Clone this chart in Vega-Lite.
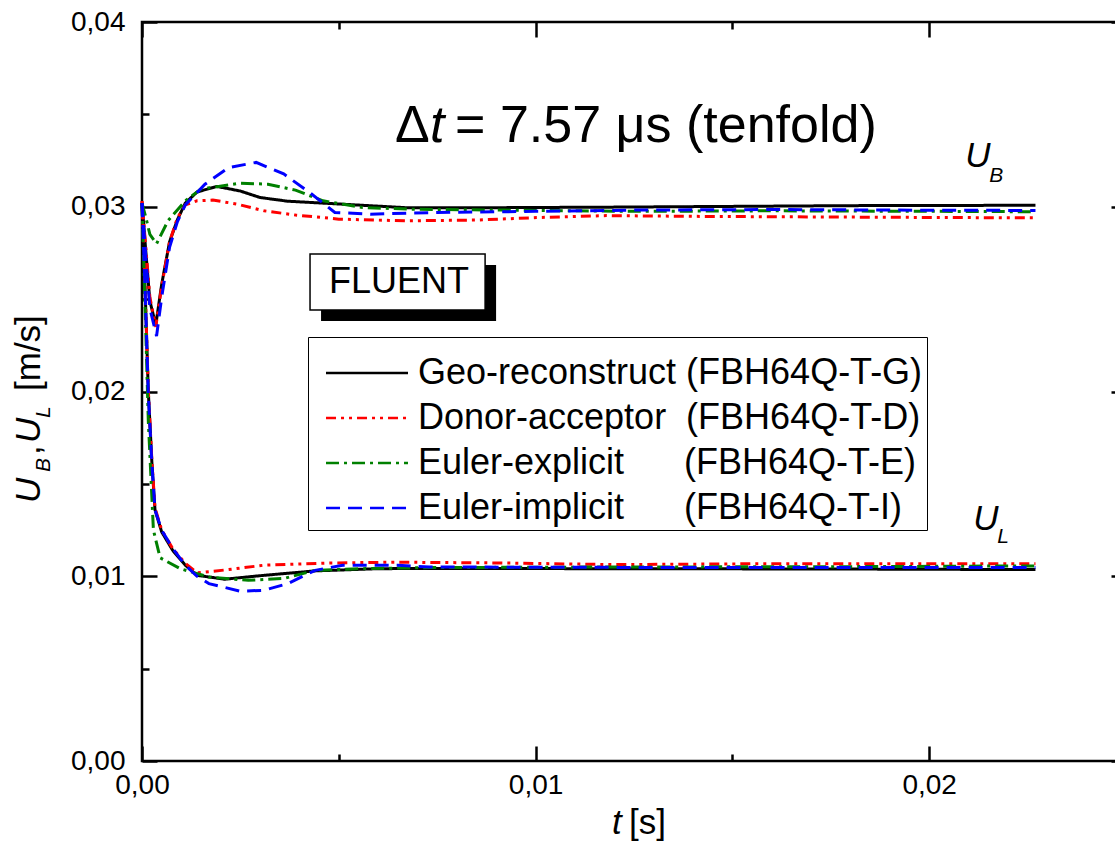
{
  "$schema": "https://vega.github.io/schema/vega-lite/v6.json",
  "autosize": "none",
  "width": 984,
  "height": 739,
  "padding": {"left": 142, "top": 22, "right": -11, "bottom": 80},
  "background": "white",
  "config": {
    "font": "Liberation Sans",
    "view": {"stroke": "black", "strokeWidth": 2.5},
    "axis": {"domain": false, "grid": false, "title": null, "tickColor": "black", "tickWidth": 2.5, "labelColor": "black", "labelFont": "Liberation Sans", "labelFontSize": 28, "labelFlush": false, "labelOverlap": false}
  },
  "resolve": {"axis": {"x": "independent", "y": "independent"}},
  "layer": [
    {
      "data": {"values": [
        {"t":0,"u":0.0302,"m":"G","c":"B"},{"t":0.0001,"u":0.0275,"m":"G","c":"B"},{"t":0.0002,"u":0.0249,"m":"G","c":"B"},{"t":0.00035,"u":0.0236,"m":"G","c":"B"},{"t":0.0005,"u":0.0258,"m":"G","c":"B"},{"t":0.0007,"u":0.0281,"m":"G","c":"B"},{"t":0.0009,"u":0.0293,"m":"G","c":"B"},{"t":0.0011,"u":0.0302,"m":"G","c":"B"},{"t":0.0014,"u":0.0308,"m":"G","c":"B"},{"t":0.0019,"u":0.0311,"m":"G","c":"B"},{"t":0.0025,"u":0.03085,"m":"G","c":"B"},{"t":0.003,"u":0.0305,"m":"G","c":"B"},{"t":0.0037,"u":0.0303,"m":"G","c":"B"},{"t":0.005,"u":0.03015,"m":"G","c":"B"},{"t":0.0067,"u":0.02995,"m":"G","c":"B"},{"t":0.009,"u":0.02995,"m":"G","c":"B"},{"t":0.012,"u":0.02998,"m":"G","c":"B"},{"t":0.015,"u":0.03002,"m":"G","c":"B"},{"t":0.018,"u":0.03006,"m":"G","c":"B"},{"t":0.0227,"u":0.03008,"m":"G","c":"B"},
        {"t":0,"u":0.0302,"m":"G","c":"L"},{"t":0.00008,"u":0.0255,"m":"G","c":"L"},{"t":0.00016,"u":0.02,"m":"G","c":"L"},{"t":0.00025,"u":0.0162,"m":"G","c":"L"},{"t":0.00033,"u":0.0136,"m":"G","c":"L"},{"t":0.0005,"u":0.0124,"m":"G","c":"L"},{"t":0.00078,"u":0.0114,"m":"G","c":"L"},{"t":0.0011,"u":0.0106,"m":"G","c":"L"},{"t":0.0014,"u":0.01005,"m":"G","c":"L"},{"t":0.0021,"u":0.00984,"m":"G","c":"L"},{"t":0.0031,"u":0.01005,"m":"G","c":"L"},{"t":0.0044,"u":0.01029,"m":"G","c":"L"},{"t":0.006,"u":0.01041,"m":"G","c":"L"},{"t":0.0073,"u":0.01042,"m":"G","c":"L"},{"t":0.012,"u":0.01041,"m":"G","c":"L"},{"t":0.018,"u":0.01039,"m":"G","c":"L"},{"t":0.0227,"u":0.01036,"m":"G","c":"L"},
        {"t":0,"u":0.0303,"m":"D","c":"B"},{"t":0.0001,"u":0.0277,"m":"D","c":"B"},{"t":0.0002,"u":0.0251,"m":"D","c":"B"},{"t":0.00035,"u":0.0235,"m":"D","c":"B"},{"t":0.0005,"u":0.0257,"m":"D","c":"B"},{"t":0.0007,"u":0.0281,"m":"D","c":"B"},{"t":0.0009,"u":0.0294,"m":"D","c":"B"},{"t":0.0011,"u":0.0301,"m":"D","c":"B"},{"t":0.0014,"u":0.03032,"m":"D","c":"B"},{"t":0.0018,"u":0.03036,"m":"D","c":"B"},{"t":0.0024,"u":0.03015,"m":"D","c":"B"},{"t":0.0031,"u":0.02978,"m":"D","c":"B"},{"t":0.0039,"u":0.02955,"m":"D","c":"B"},{"t":0.005,"u":0.02933,"m":"D","c":"B"},{"t":0.0067,"u":0.02924,"m":"D","c":"B"},{"t":0.0085,"u":0.02928,"m":"D","c":"B"},{"t":0.0101,"u":0.02942,"m":"D","c":"B"},{"t":0.0118,"u":0.02952,"m":"D","c":"B"},{"t":0.014,"u":0.02948,"m":"D","c":"B"},{"t":0.017,"u":0.02945,"m":"D","c":"B"},{"t":0.02,"u":0.02942,"m":"D","c":"B"},{"t":0.0227,"u":0.0294,"m":"D","c":"B"},
        {"t":0,"u":0.0303,"m":"D","c":"L"},{"t":0.00008,"u":0.0256,"m":"D","c":"L"},{"t":0.00016,"u":0.0201,"m":"D","c":"L"},{"t":0.00025,"u":0.0163,"m":"D","c":"L"},{"t":0.00033,"u":0.0137,"m":"D","c":"L"},{"t":0.0005,"u":0.0125,"m":"D","c":"L"},{"t":0.00078,"u":0.0115,"m":"D","c":"L"},{"t":0.0011,"u":0.0107,"m":"D","c":"L"},{"t":0.0014,"u":0.01018,"m":"D","c":"L"},{"t":0.0022,"u":0.01036,"m":"D","c":"L"},{"t":0.0031,"u":0.0106,"m":"D","c":"L"},{"t":0.0048,"u":0.01072,"m":"D","c":"L"},{"t":0.0065,"u":0.01076,"m":"D","c":"L"},{"t":0.0091,"u":0.01072,"m":"D","c":"L"},{"t":0.012,"u":0.01063,"m":"D","c":"L"},{"t":0.016,"u":0.01068,"m":"D","c":"L"},{"t":0.02,"u":0.01068,"m":"D","c":"L"},{"t":0.0227,"u":0.01068,"m":"D","c":"L"},
        {"t":0,"u":0.0302,"m":"E","c":"B"},{"t":0.0001,"u":0.0294,"m":"E","c":"B"},{"t":0.0002,"u":0.0285,"m":"E","c":"B"},{"t":0.00037,"u":0.028,"m":"E","c":"B"},{"t":0.00066,"u":0.02924,"m":"E","c":"B"},{"t":0.0011,"u":0.03032,"m":"E","c":"B"},{"t":0.0015,"u":0.03097,"m":"E","c":"B"},{"t":0.0018,"u":0.03105,"m":"E","c":"B"},{"t":0.0025,"u":0.03128,"m":"E","c":"B"},{"t":0.0032,"u":0.03122,"m":"E","c":"B"},{"t":0.0039,"u":0.0309,"m":"E","c":"B"},{"t":0.0046,"u":0.03032,"m":"E","c":"B"},{"t":0.0056,"u":0.02996,"m":"E","c":"B"},{"t":0.0068,"u":0.02987,"m":"E","c":"B"},{"t":0.0092,"u":0.02982,"m":"E","c":"B"},{"t":0.0126,"u":0.02975,"m":"E","c":"B"},{"t":0.016,"u":0.02978,"m":"E","c":"B"},{"t":0.019,"u":0.02976,"m":"E","c":"B"},{"t":0.0227,"u":0.02973,"m":"E","c":"B"},
        {"t":0,"u":0.0302,"m":"E","c":"L"},{"t":0.00008,"u":0.0245,"m":"E","c":"L"},{"t":0.00016,"u":0.0184,"m":"E","c":"L"},{"t":0.00029,"u":0.0125,"m":"E","c":"L"},{"t":0.00046,"u":0.011,"m":"E","c":"L"},{"t":0.00097,"u":0.01041,"m":"E","c":"L"},{"t":0.0017,"u":0.00996,"m":"E","c":"L"},{"t":0.0027,"u":0.00978,"m":"E","c":"L"},{"t":0.0036,"u":0.00988,"m":"E","c":"L"},{"t":0.0044,"u":0.01032,"m":"E","c":"L"},{"t":0.0056,"u":0.01041,"m":"E","c":"L"},{"t":0.0073,"u":0.01047,"m":"E","c":"L"},{"t":0.012,"u":0.0105,"m":"E","c":"L"},{"t":0.018,"u":0.01052,"m":"E","c":"L"},{"t":0.0227,"u":0.01056,"m":"E","c":"L"},
        {"t":0,"u":0.0302,"m":"I","c":"B"},{"t":0.0001,"u":0.0272,"m":"I","c":"B"},{"t":0.0002,"u":0.0245,"m":"I","c":"B"},{"t":0.00037,"u":0.023,"m":"I","c":"B"},{"t":0.0005,"u":0.0251,"m":"I","c":"B"},{"t":0.0007,"u":0.0278,"m":"I","c":"B"},{"t":0.0009,"u":0.0292,"m":"I","c":"B"},{"t":0.0011,"u":0.0301,"m":"I","c":"B"},{"t":0.0016,"u":0.03122,"m":"I","c":"B"},{"t":0.0022,"u":0.03212,"m":"I","c":"B"},{"t":0.0029,"u":0.0324,"m":"I","c":"B"},{"t":0.0036,"u":0.03178,"m":"I","c":"B"},{"t":0.0043,"u":0.0307,"m":"I","c":"B"},{"t":0.0049,"u":0.02969,"m":"I","c":"B"},{"t":0.0058,"u":0.0296,"m":"I","c":"B"},{"t":0.0075,"u":0.02969,"m":"I","c":"B"},{"t":0.01,"u":0.02975,"m":"I","c":"B"},{"t":0.0126,"u":0.02982,"m":"I","c":"B"},{"t":0.016,"u":0.02985,"m":"I","c":"B"},{"t":0.019,"u":0.02982,"m":"I","c":"B"},{"t":0.0227,"u":0.0298,"m":"I","c":"B"},
        {"t":0,"u":0.0302,"m":"I","c":"L"},{"t":0.00008,"u":0.0254,"m":"I","c":"L"},{"t":0.00016,"u":0.0199,"m":"I","c":"L"},{"t":0.00025,"u":0.0161,"m":"I","c":"L"},{"t":0.00033,"u":0.0136,"m":"I","c":"L"},{"t":0.0005,"u":0.0125,"m":"I","c":"L"},{"t":0.00078,"u":0.0115,"m":"I","c":"L"},{"t":0.0011,"u":0.0106,"m":"I","c":"L"},{"t":0.0014,"u":0.01,"m":"I","c":"L"},{"t":0.0017,"u":0.0096,"m":"I","c":"L"},{"t":0.0025,"u":0.00919,"m":"I","c":"L"},{"t":0.0031,"u":0.00924,"m":"I","c":"L"},{"t":0.0037,"u":0.0096,"m":"I","c":"L"},{"t":0.0044,"u":0.01032,"m":"I","c":"L"},{"t":0.0051,"u":0.0106,"m":"I","c":"L"},{"t":0.0065,"u":0.0106,"m":"I","c":"L"},{"t":0.0073,"u":0.0105,"m":"I","c":"L"},{"t":0.012,"u":0.01048,"m":"I","c":"L"},{"t":0.018,"u":0.01048,"m":"I","c":"L"},{"t":0.0227,"u":0.01047,"m":"I","c":"L"}
      ]},
      "mark": {"type": "line", "strokeWidth": 3},
      "encoding": {
        "x": {"field": "t", "type": "quantitative", "scale": {"domain": [0, 0.025], "nice": false, "zero": false},
          "axis": {"orient": "bottom", "values": [0, 0.005, 0.01, 0.015, 0.02, 0.025],
            "tickSize": {"condition": {"test": "round(datum.value*200) % 2 == 0", "value": -15}, "value": -7},
            "labelPadding": 25,
            "labelExpr": "round(datum.value*200) % 2 == 0 ? replace(format(datum.value, '.2f'), '.', ',') : ''"}},
        "y": {"field": "u", "type": "quantitative", "scale": {"domain": [0, 0.04], "nice": false, "zero": false},
          "axis": {"orient": "left", "values": [0, 0.005, 0.01, 0.015, 0.02, 0.025, 0.03, 0.035, 0.04],
            "tickSize": {"condition": {"test": "round(datum.value*200) % 2 == 0", "value": -15}, "value": -7},
            "labelPadding": 32,
            "labelExpr": "round(datum.value*200) % 2 == 0 ? replace(format(datum.value, '.2f'), '.', ',') : ''"}},
        "color": {"field": "m", "type": "nominal",
          "scale": {"domain": ["G", "D", "E", "I"], "range": ["#000000", "#ff0000", "#008000", "#0000ff"]},
          "legend": {"orient": "none", "legendX": 166, "legendY": 315, "title": " ", "titleFontSize": 10, "titlePadding": 4,
            "symbolType": "M-4,0H4", "symbolSize": 420, "symbolStrokeWidth": 2.5, "symbolOffset": 37, "labelOffset": 33,
            "labelFontSize": 36, "labelFont": "Liberation Sans", "labelColor": "black", "labelLimit": 0,
            "strokeColor": "black", "fillColor": "white", "padding": 4, "rowPadding": 9,
            "labelExpr": "{'G': 'Geo-reconstruct\u00a0(FBH64Q-T-G)', 'D': 'Donor-acceptor\u00a0\u00a0(FBH64Q-T-D)', 'E': 'Euler-explicit\u00a0\u00a0\u00a0\u00a0\u00a0\u00a0(FBH64Q-T-E)', 'I': 'Euler-implicit\u00a0\u00a0\u00a0\u00a0\u00a0\u00a0(FBH64Q-T-I)'}[datum.label]"}},
        "strokeDash": {"field": "m", "type": "nominal",
          "scale": {"domain": ["G", "D", "E", "I"], "range": [[1, 0], [10, 5, 3, 5, 3, 5], [13, 5, 3, 5], [14, 8]]},
          "legend": {"orient": "none", "legendX": 166, "legendY": 315, "title": " ", "titleFontSize": 10, "titlePadding": 4,
            "symbolType": "M-4,0H4", "symbolSize": 420, "symbolStrokeWidth": 2.5, "symbolOffset": 37, "labelOffset": 33,
            "labelFontSize": 36, "labelFont": "Liberation Sans", "labelColor": "black", "labelLimit": 0,
            "strokeColor": "black", "fillColor": "white", "padding": 4, "rowPadding": 9,
            "labelExpr": "{'G': 'Geo-reconstruct\u00a0(FBH64Q-T-G)', 'D': 'Donor-acceptor\u00a0\u00a0(FBH64Q-T-D)', 'E': 'Euler-explicit\u00a0\u00a0\u00a0\u00a0\u00a0\u00a0(FBH64Q-T-E)', 'I': 'Euler-implicit\u00a0\u00a0\u00a0\u00a0\u00a0\u00a0(FBH64Q-T-I)'}[datum.label]"}},
        "detail": {"field": "c", "type": "nominal"}
      }
    },
    {
      "data": {"values": [{"x1": 0.004549, "x2": 0.008996, "y1": 0.026847, "y2": 0.023816}]},
      "mark": {"type": "rect", "fill": "black"},
      "encoding": {
        "x": {"field": "x1", "type": "quantitative", "scale": {"domain": [0, 0.025], "nice": false, "zero": false},
          "axis": {"orient": "top", "values": [0, 0.005, 0.01, 0.015, 0.02, 0.025], "labels": false,
            "tickSize": {"condition": {"test": "round(datum.value*200) % 2 == 0", "value": -15}, "value": -7}}},
        "x2": {"field": "x2"},
        "y": {"field": "y1", "type": "quantitative", "scale": {"domain": [0, 0.04], "nice": false, "zero": false},
          "axis": {"orient": "right", "values": [0, 0.005, 0.01, 0.015, 0.02, 0.025, 0.03, 0.035, 0.04], "labels": false,
            "tickSize": {"condition": {"test": "round(datum.value*200) % 2 == 0", "value": -15}, "value": -7}}},
        "y2": {"field": "y2"}
      }
    },
    {
      "data": {"values": [{"x1": 0.004269, "x2": 0.008717, "y1": 0.027443, "y2": 0.024411}]},
      "mark": {"type": "rect", "fill": "white", "stroke": "black", "strokeWidth": 1.5},
      "encoding": {
        "x": {"field": "x1", "type": "quantitative", "scale": {"domain": [0, 0.025]}, "axis": null},
        "x2": {"field": "x2"},
        "y": {"field": "y1", "type": "quantitative", "scale": {"domain": [0, 0.04]}, "axis": null},
        "y2": {"field": "y2"}
      }
    },
    {
      "data": {"values": [{"x": 0.006531, "y": 0.025331, "label": "FLUENT"}]},
      "mark": {"type": "text", "align": "center", "baseline": "alphabetic", "fontSize": 36, "color": "black"},
      "encoding": {
        "x": {"field": "x", "type": "quantitative", "scale": {"domain": [0, 0.025]}, "axis": null},
        "y": {"field": "y", "type": "quantitative", "scale": {"domain": [0, 0.04]}, "axis": null},
        "text": {"field": "label"}
      }
    },
    {
      "data": {"values": [{"x": 0.00643, "y": 0.033505, "label": "Δ"}, {"x": 0.007954, "y": 0.033505, "label": "= 7.57 μs (tenfold)"}]},
      "mark": {"type": "text", "align": "left", "baseline": "alphabetic", "fontSize": 52, "color": "black"},
      "encoding": {
        "x": {"field": "x", "type": "quantitative", "scale": {"domain": [0, 0.025]}, "axis": null},
        "y": {"field": "y", "type": "quantitative", "scale": {"domain": [0, 0.04]}, "axis": null},
        "text": {"field": "label"}
      }
    },
    {
      "data": {"values": [{"x": 0.007319, "y": 0.033505, "label": "t"}]},
      "mark": {"type": "text", "align": "left", "baseline": "alphabetic", "fontSize": 52, "fontStyle": "italic", "color": "black"},
      "encoding": {
        "x": {"field": "x", "type": "quantitative", "scale": {"domain": [0, 0.025]}, "axis": null},
        "y": {"field": "y", "type": "quantitative", "scale": {"domain": [0, 0.04]}, "axis": null},
        "text": {"field": "label"}
      }
    },
    {
      "data": {"values": [{"x": 0.020915, "y": 0.032152, "label": "U"}, {"x": 0.021118, "y": 0.012503, "label": "U"}, {"x": 0.011944, "y": -0.003951, "label": "t"}]},
      "mark": {"type": "text", "align": "left", "baseline": "alphabetic", "fontSize": 35, "fontStyle": "italic", "color": "black"},
      "encoding": {
        "x": {"field": "x", "type": "quantitative", "scale": {"domain": [0, 0.025]}, "axis": null},
        "y": {"field": "y", "type": "quantitative", "scale": {"domain": [0, 0.04]}, "axis": null},
        "text": {"field": "label"}
      }
    },
    {
      "data": {"values": [{"x": 0.021525, "y": 0.03134, "label": "B"}, {"x": 0.021728, "y": 0.0118, "label": "L"}]},
      "mark": {"type": "text", "align": "left", "baseline": "alphabetic", "fontSize": 21, "fontStyle": "italic", "color": "black"},
      "encoding": {
        "x": {"field": "x", "type": "quantitative", "scale": {"domain": [0, 0.025]}, "axis": null},
        "y": {"field": "y", "type": "quantitative", "scale": {"domain": [0, 0.04]}, "axis": null},
        "text": {"field": "label"}
      }
    },
    {
      "data": {"values": [{"x": 0.012376, "y": -0.003951, "label": "[s]"}]},
      "mark": {"type": "text", "align": "left", "baseline": "alphabetic", "fontSize": 35, "color": "black"},
      "encoding": {
        "x": {"field": "x", "type": "quantitative", "scale": {"domain": [0, 0.025]}, "axis": null},
        "y": {"field": "y", "type": "quantitative", "scale": {"domain": [0, 0.04]}, "axis": null},
        "text": {"field": "label"}
      }
    },
    {
      "data": {"values": [{"x": -0.002592, "y": 0.013965, "label": "U"}, {"x": -0.002592, "y": 0.017212, "label": "U"}]},
      "mark": {"type": "text", "align": "left", "baseline": "alphabetic", "angle": 270, "fontSize": 35, "fontStyle": "italic", "color": "black"},
      "encoding": {
        "x": {"field": "x", "type": "quantitative", "scale": {"domain": [0, 0.025]}, "axis": null},
        "y": {"field": "y", "type": "quantitative", "scale": {"domain": [0, 0.04]}, "axis": null},
        "text": {"field": "label"}
      }
    },
    {
      "data": {"values": [{"x": -0.002338, "y": 0.015643, "label": "B"}, {"x": -0.002338, "y": 0.018566, "label": "L"}]},
      "mark": {"type": "text", "align": "left", "baseline": "alphabetic", "angle": 270, "fontSize": 21, "fontStyle": "italic", "color": "black"},
      "encoding": {
        "x": {"field": "x", "type": "quantitative", "scale": {"domain": [0, 0.025]}, "axis": null},
        "y": {"field": "y", "type": "quantitative", "scale": {"domain": [0, 0.04]}, "axis": null},
        "text": {"field": "label"}
      }
    },
    {
      "data": {"values": [{"x": -0.002592, "y": 0.016563, "label": ","}, {"x": -0.002592, "y": 0.020027, "label": "[m/s]"}]},
      "mark": {"type": "text", "align": "left", "baseline": "alphabetic", "angle": 270, "fontSize": 35, "color": "black"},
      "encoding": {
        "x": {"field": "x", "type": "quantitative", "scale": {"domain": [0, 0.025]}, "axis": null},
        "y": {"field": "y", "type": "quantitative", "scale": {"domain": [0, 0.04]}, "axis": null},
        "text": {"field": "label"}
      }
    }
  ]
}
